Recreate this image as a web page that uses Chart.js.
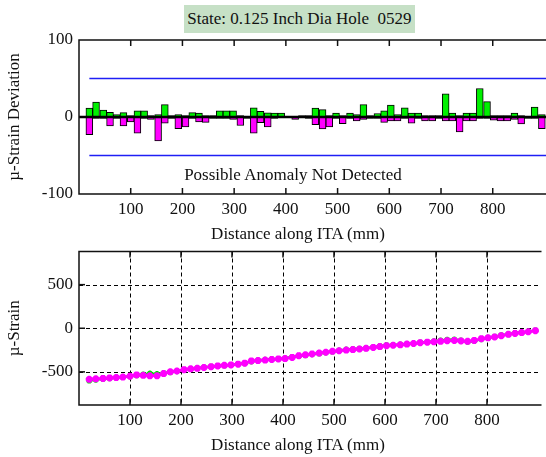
<!DOCTYPE html>
<html><head><meta charset="utf-8">
<script src="https://cdn.jsdelivr.net/npm/chart.js@4/dist/chart.umd.min.js"></script>
<style>
html,body{margin:0;padding:0;background:#fff;width:546px;height:457px;overflow:hidden;font-family:"Liberation Serif",serif;}
#wrap{position:relative;width:546px;height:457px;}
canvas{position:absolute;left:0;}
#c1{top:0}
#c2{top:245px}
.lbl{position:absolute;white-space:nowrap;color:#111;font-size:17px;line-height:20px;transform:translateX(-50%);}
#title{position:absolute;left:184px;top:5px;width:231px;height:28px;background:#c6e0c6;text-align:center;line-height:28px;font-size:17px;color:#111;white-space:pre;}
</style></head>
<body><div id="wrap">
<canvas id="c1" width="546" height="245"></canvas>
<canvas id="c2" width="546" height="212"></canvas>
<div id="title">State: 0.125 Inch Dia Hole  0529</div>
<div class="lbl" style="left:293px;top:165px">Possible Anomaly Not Detected</div>
<div class="lbl" style="left:298px;top:224px">Distance along ITA (mm)</div>
<div class="lbl" style="left:298px;top:435px">Distance along ITA (mm)</div>
</div>
<script>
// ---- data ----
const distance = [20,33,47,60,73,86,100,113,126,139,153,166,179,192,206,219,232,245,259,272,285,298,312,325,338,351,365,378,391,404,418,431,444,457,471,484,497,510,524,537,550,563,577,590,603,616,630,643,656,669,683,696,709,722,736,749,762,775,789,802,815,828,842,855,868,881,895];
const devGreen = [11.5,19.5,9,6,3,5.7,2,8,8,2, 3,16,2,3,2,5.7,5,2,2,8, 8,8,2,1,12,7.5,5.5,5,5,1, 1,2,2,11.5,9.5,2,5,2,5,3, 16,2,4.5,8,15.5,3,12,5,5,2, 2,2,30,5,2,5,5,37,20,2, 2,2,5,2,1,13,3];
const devMagenta = [-23,-2,-2,-11.5,-2,-11.5,-6.5,-21,-2,-3, -31,-8,-2,-15,-13,-2,-6.5,-7,-2,-2, -2,-3,-11,-2,-21,-7.5,-13,-2,-1,-1, -3,-1,-2,-10,-15.5,-13,-2,-8.5,-2,-5, -3,-2,-2,-7,-5,-5,-2,-8,-2,-5, -5,-2,-5,-5,-19.5,-5,-5,-2,-2,-4, -5,-5,-3,-9,-2,-2,-15];
const thresholdUpper = 50;
const thresholdLower = -50;
const strainMagenta = [-585,-580,-575,-570,-565,-560,-550,-535,-540,-545, -545,-520,-500,-490,-475,-465,-460,-450,-440,-432, -425,-420,-412,-400,-375,-370,-365,-358,-352,-348, -335,-315,-305,-295,-285,-275,-265,-258,-250,-245, -238,-230,-220,-210,-200,-195,-190,-182,-175,-165, -160,-155,-150,-142,-140,-145,-150,-140,-120,-110, -100,-85,-70,-60,-50,-40,-28];
const strainGreen = [-600,-590,-580,-572,-566,-560,-552,-540,-530,-520, -525,-515,-505,-492,-478,-468,-458,-448,-440,-432, -426,-420,-410,-402,-380,-368,-362,-356,-352,-345, -330,-318,-310,-298,-290,-278,-268,-255,-245,-240, -235,-228,-218,-205,-196,-192,-186,-180,-175,-163, -158,-150,-140,-132,-130,-140,-155,-145,-125,-108, -98,-80,-68,-55,-48,-38,-25];
const xTicks = [100,200,300,400,500,600,700,800];
const yTicksTop = [-100,0,100];
const yTicksBottom = [-500,0,500];

// ---- helpers ----
const FONT = {family:'"Liberation Serif", serif', size:17};
const pts = (xs, ys) => xs.map((x,i)=>({x:x, y:ys[i]}));
function fixY(w){ return s => { s.width = w; s.paddingTop = 0; s.paddingBottom = 0; }; }
function fixX(h){ return s => { s.height = h; s.paddingLeft = 0; s.paddingRight = 0; }; }
function setTicks(vals){ return s => { s.ticks = vals.map(v=>({value:v})); }; }

const framePlugin = {
  id:'frame',
  beforeDatasetsDraw(chart, args, opts){
    if(!opts.dashGrid) return;
    const {ctx, chartArea:a, scales:{x,y}} = chart;
    ctx.save();
    ctx.strokeStyle = '#000'; ctx.lineWidth = 1; ctx.setLineDash([4,3]);
    xTicks.forEach(v=>{ const px=Math.round(x.getPixelForValue(v))+0.5; ctx.beginPath(); ctx.moveTo(px,a.top); ctx.lineTo(px,a.bottom); ctx.stroke(); });
    opts.yVals.forEach(v=>{ const py=Math.round(y.getPixelForValue(v))+0.5; ctx.beginPath(); ctx.moveTo(a.left,py); ctx.lineTo(a.right,py); ctx.stroke(); });
    ctx.restore();
  },
  afterDatasetsDraw(chart, args, opts){
    const {ctx, chartArea:a, scales:{x,y}} = chart;
    ctx.save();
    ctx.setLineDash([]);
    if(opts.zeroLine){
      const py = y.getPixelForValue(0);
      ctx.strokeStyle='#000'; ctx.lineWidth=2.5;
      ctx.beginPath(); ctx.moveTo(a.left,py); ctx.lineTo(a.right,py); ctx.stroke();
    }
    ctx.strokeStyle='#111'; ctx.lineWidth=1.5;
    ctx.beginPath();
    ctx.moveTo(a.right+2,a.top); ctx.lineTo(a.left,a.top); ctx.lineTo(a.left,a.bottom); ctx.lineTo(a.right+2,a.bottom);
    ctx.stroke();
    ctx.lineWidth=1.5;
    xTicks.forEach(v=>{
      const px = x.getPixelForValue(v);
      ctx.beginPath(); ctx.moveTo(px,a.top); ctx.lineTo(px,a.top+6); ctx.stroke();
      ctx.beginPath(); ctx.moveTo(px,a.bottom); ctx.lineTo(px,a.bottom-6); ctx.stroke();
    });
    if(opts.yVals){
      opts.yVals.forEach(v=>{
        const py = y.getPixelForValue(v);
        ctx.beginPath(); ctx.moveTo(a.left,py); ctx.lineTo(a.left+6,py); ctx.stroke();
      });
    }
    ctx.restore();
  }
};

const baseX = (h) => ({
  type:'linear', min:0, max:903, offset:false,
  afterBuildTicks: setTicks(xTicks), afterFit: fixX(h),
  grid:{display:false, drawTicks:false, offset:false}, border:{display:false},
  ticks:{font:FONT, color:'#111', padding:5, autoSkip:false, maxRotation:0}
});

new Chart(document.getElementById('c1'), {
  type:'bar',
  data:{datasets:[
    {type:'line', data:pts([20,903],[thresholdUpper,thresholdUpper]), borderColor:'#1f1ff5', borderWidth:1.5, pointRadius:0},
    {type:'line', data:pts([20,903],[thresholdLower,thresholdLower]), borderColor:'#1f1ff5', borderWidth:1.5, pointRadius:0},
    {label:'Green deviation', data:pts(distance,devGreen), backgroundColor:'#00f000', borderColor:'#000', borderWidth:1, barThickness:6.85, grouped:false},
    {label:'Magenta deviation', data:pts(distance,devMagenta), backgroundColor:'#ff00ff', borderColor:'#000', borderWidth:1, barThickness:6.85, grouped:false}
  ]},
  options:{
    responsive:false, animation:false, devicePixelRatio:1,
    layout:{padding:{top:40,left:0,right:0,bottom:0}},
    plugins:{legend:{display:false}, tooltip:{enabled:false}, frame:{zeroLine:true}},
    scales:{
      x: baseX(51),
      y:{min:-100, max:100, afterBuildTicks:setTicks(yTicksTop), afterFit:fixY(79),
         grid:{display:false, drawTicks:false}, border:{display:false},
         ticks:{font:FONT, color:'#111', padding:6},
         title:{display:true, text:'µ-Strain Deviation', font:FONT, color:'#111', padding:{top:4,bottom:4}}}
    }
  },
  plugins:[framePlugin]
});

new Chart(document.getElementById('c2'), {
  type:'line',
  data:{datasets:[
    {label:'Magenta strain', data:pts(distance,strainMagenta), borderColor:'#ff00ff', backgroundColor:'#ff00ff', borderWidth:2.5,
     pointStyle:'star', pointRadius:3.5, pointBorderWidth:2.5, pointBorderColor:'#ff00ff'},
    {label:'Green strain', data:pts(distance,strainGreen), borderColor:'#00e000', backgroundColor:'#00e000', borderWidth:2.5,
     pointStyle:'star', pointRadius:3, pointBorderWidth:2, pointBorderColor:'#00e000'}
  ]},
  options:{
    responsive:false, animation:false, devicePixelRatio:1,
    layout:{padding:{top:6,left:0,right:0,bottom:0}},
    plugins:{legend:{display:false}, tooltip:{enabled:false}, frame:{dashGrid:true, yVals:yTicksBottom}},
    scales:{
      x: baseX(52),
      y:{min:-880, max:880, afterBuildTicks:setTicks(yTicksBottom), afterFit:fixY(79),
         grid:{display:false, drawTicks:false}, border:{display:false},
         ticks:{font:FONT, color:'#111', padding:6},
         title:{display:true, text:'µ-Strain', font:FONT, color:'#111', padding:{top:4,bottom:4}}}
    }
  },
  plugins:[framePlugin]
});
</script>
</body></html>
